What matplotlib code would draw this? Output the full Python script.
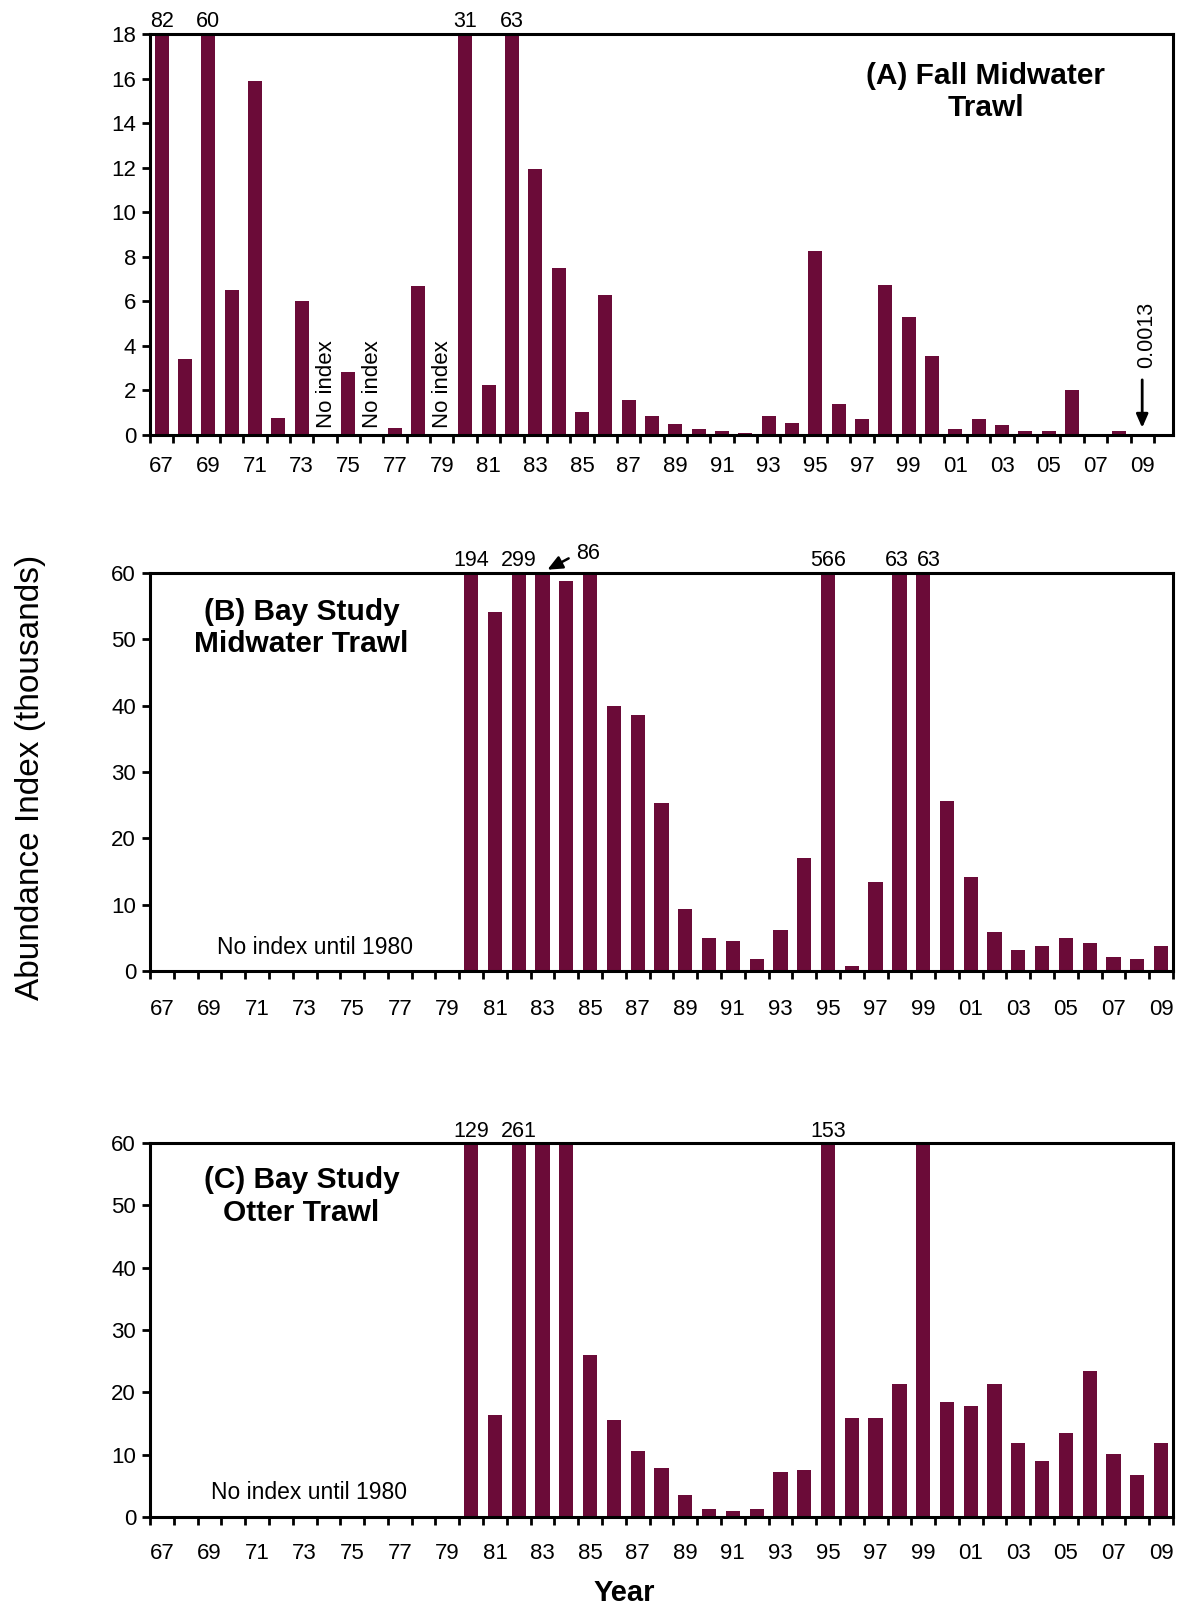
import numpy as np
import matplotlib
matplotlib.use("Agg")
import matplotlib.pyplot as plt

plt.rcParams['font.family'] = ['Liberation Sans', 'DejaVu Sans']

# ---------------- data ----------------
years = list(range(1967, 2010))
year_tick_labels = [f"{y % 100:02d}" for y in years[::2]]
year_tick_pos = years[::2]

nan = np.nan
# (A) Fall Midwater Trawl (thousands); nan = no index
fmwt = [82, 3.4, 60, 6.5, 15.9, 0.75, 6.0, nan, 2.85, nan,
        0.3, 6.7, nan, 31, 2.25, 63, 11.95, 7.5, 1.05, 6.27,
        1.55, 0.85, 0.5, 0.29, 0.17, 0.08, 0.85, 0.55, 8.25, 1.4,
        0.72, 6.72, 5.3, 3.55, 0.27, 0.72, 0.47, 0.17, 0.18, 2.0,
        0.02, 0.17, 0.0013]
fmwt_over_years = [1967, 1969, 1980, 1982]
fmwt_over_labels = ["82", "60", "31", "63"]
fmwt_noindex_years = [1974, 1976, 1979]

# (B) Bay Study Midwater Trawl
bs_mwt = [nan] * 13 + [194, 54.1, 299, 86, 58.8, 61, 40.0, 38.6, 25.3, 9.3,
                       4.9, 4.5, 1.8, 6.2, 17.1, 566, 0.8, 13.4, 63, 63,
                       25.7, 14.2, 5.9, 3.1, 3.8, 4.9, 4.2, 2.1, 1.8, 3.8]
bs_mwt_over_years = [1980, 1982, 1995, 1998, 1999]
bs_mwt_over_labels = ["194", "299", "566", "63", "63"]

# (C) Bay Study Otter Trawl
bs_ot = [nan] * 13 + [129, 16.3, 261, 65, 62, 26.0, 15.6, 10.6, 7.8, 3.5,
                      1.3, 1.0, 1.3, 7.2, 7.5, 153, 15.9, 15.9, 21.3, 64,
                      18.4, 17.8, 21.3, 11.8, 9.0, 13.5, 23.5, 10.1, 6.8, 11.8]
bs_ot_over_years = [1980, 1982, 1995]
bs_ot_over_labels = ["129", "261", "153"]

BAR = '#6B0B38'
W, H = 1180, 1609

fig = plt.figure(figsize=(W / 100, H / 100), dpi=100)
fig.patch.set_facecolor('white')


def make_ax(top, bottom):
    return fig.add_axes([150 / W, 1 - bottom / H, (1173 - 150) / W, (bottom - top) / H])


def style(ax, ymax, ystep, xlim, xpad):
    ax.set_xlim(*xlim)
    ax.set_ylim(0, ymax)
    ax.set_yticks(np.arange(0, ymax + 0.1, ystep))
    ax.set_yticklabels([f"{int(v)}" for v in np.arange(0, ymax + 0.1, ystep)])
    ax.set_xticks(np.arange(1966.5, 2010, 1.0))
    ax.set_xticklabels([])
    ax.set_xticks(year_tick_pos, minor=True)
    ax.set_xticklabels(year_tick_labels, minor=True)
    ax.tick_params(axis='x', which='major', direction='out', length=6, width=2)
    ax.tick_params(axis='x', which='minor', length=0, pad=xpad, labelsize=16)
    ax.tick_params(axis='y', direction='out', length=6, width=2, labelsize=16, pad=4)
    for s in ax.spines.values():
        s.set_linewidth(2.2)
        s.set_color('black')


def over_labels(ax, yrs, labs, ymax, offsets=None):
    for i, (y, l) in enumerate(zip(yrs, labs)):
        dx = offsets[i] if offsets else 0
        ax.text(y + dx, ymax * 1.004, l, ha='center', va='bottom', fontsize=15.5, clip_on=False)


ARROW = dict(arrowstyle='-|>,head_width=0.35,head_length=0.8', color='black', lw=2)

# ---- A ----
axA = make_ax(34, 435)
axA.bar(years, fmwt, width=0.6, color=BAR, zorder=2)
style(axA, 18, 2, (1966.56, 2010.32), 15)
over_labels(axA, fmwt_over_years, fmwt_over_labels, 18)
for y in fmwt_noindex_years:
    axA.text(y + 0.05, 0.3, "No index", rotation=90, ha='center', va='bottom', fontsize=16)
axA.text(0.817, 0.855, "(A) Fall Midwater\nTrawl", transform=axA.transAxes,
         ha='center', va='center', fontsize=21.5, fontweight='bold', multialignment='center')
axA.annotate('', xy=(2009, 0.2), xytext=(2009, 2.6), arrowprops=ARROW)
axA.text(2009.2, 3.0, "0.0013", rotation=90, ha='center', va='bottom', fontsize=15.5)

# ---- B ----
axB = make_ax(573, 971)
axB.bar(years, bs_mwt, width=0.6, color=BAR, zorder=2)
style(axB, 60, 10, (1966.57, 2009.43), 20)
over_labels(axB, bs_mwt_over_years, bs_mwt_over_labels, 60, [0, 0, 0, -0.1, 0.25])
axB.annotate('', xy=(1983.1, 60.3), xytext=(1984.2, 62.4),
             arrowprops=dict(arrowstyle='-|>,head_width=0.4,head_length=0.9', color='black', lw=1.8),
             annotation_clip=False)
axB.text(1984.9, 61.3, "86", ha='center', va='bottom', fontsize=15.5)
axB.text(0.148, 0.862, "(B) Bay Study\nMidwater Trawl", transform=axB.transAxes,
         ha='center', va='center', fontsize=21.5, fontweight='bold', multialignment='center')
axB.text(0.161, 0.03, "No index until 1980", transform=axB.transAxes,
         ha='center', va='bottom', fontsize=16.5)

# ---- C ----
axC = make_ax(1143, 1517)
axC.bar(years, bs_ot, width=0.6, color=BAR, zorder=2)
style(axC, 60, 10, (1966.57, 2009.43), 18.5)
over_labels(axC, bs_ot_over_years, bs_ot_over_labels, 60)
axC.text(0.148, 0.857, "(C) Bay Study\nOtter Trawl", transform=axC.transAxes,
         ha='center', va='center', fontsize=21.5, fontweight='bold', multialignment='center')
axC.text(0.155, 0.035, "No index until 1980", transform=axC.transAxes,
         ha='center', va='bottom', fontsize=16.5)

fig.text(31 / W, 1 - 777 / H, "Abundance Index (thousands)", rotation=90,
         ha='center', va='center', fontsize=24)
fig.text(624 / W, 1 - 1593 / H, "Year", ha='center', va='center', fontsize=21, fontweight='bold')

fig.savefig('out.png', dpi=100, facecolor='white')
